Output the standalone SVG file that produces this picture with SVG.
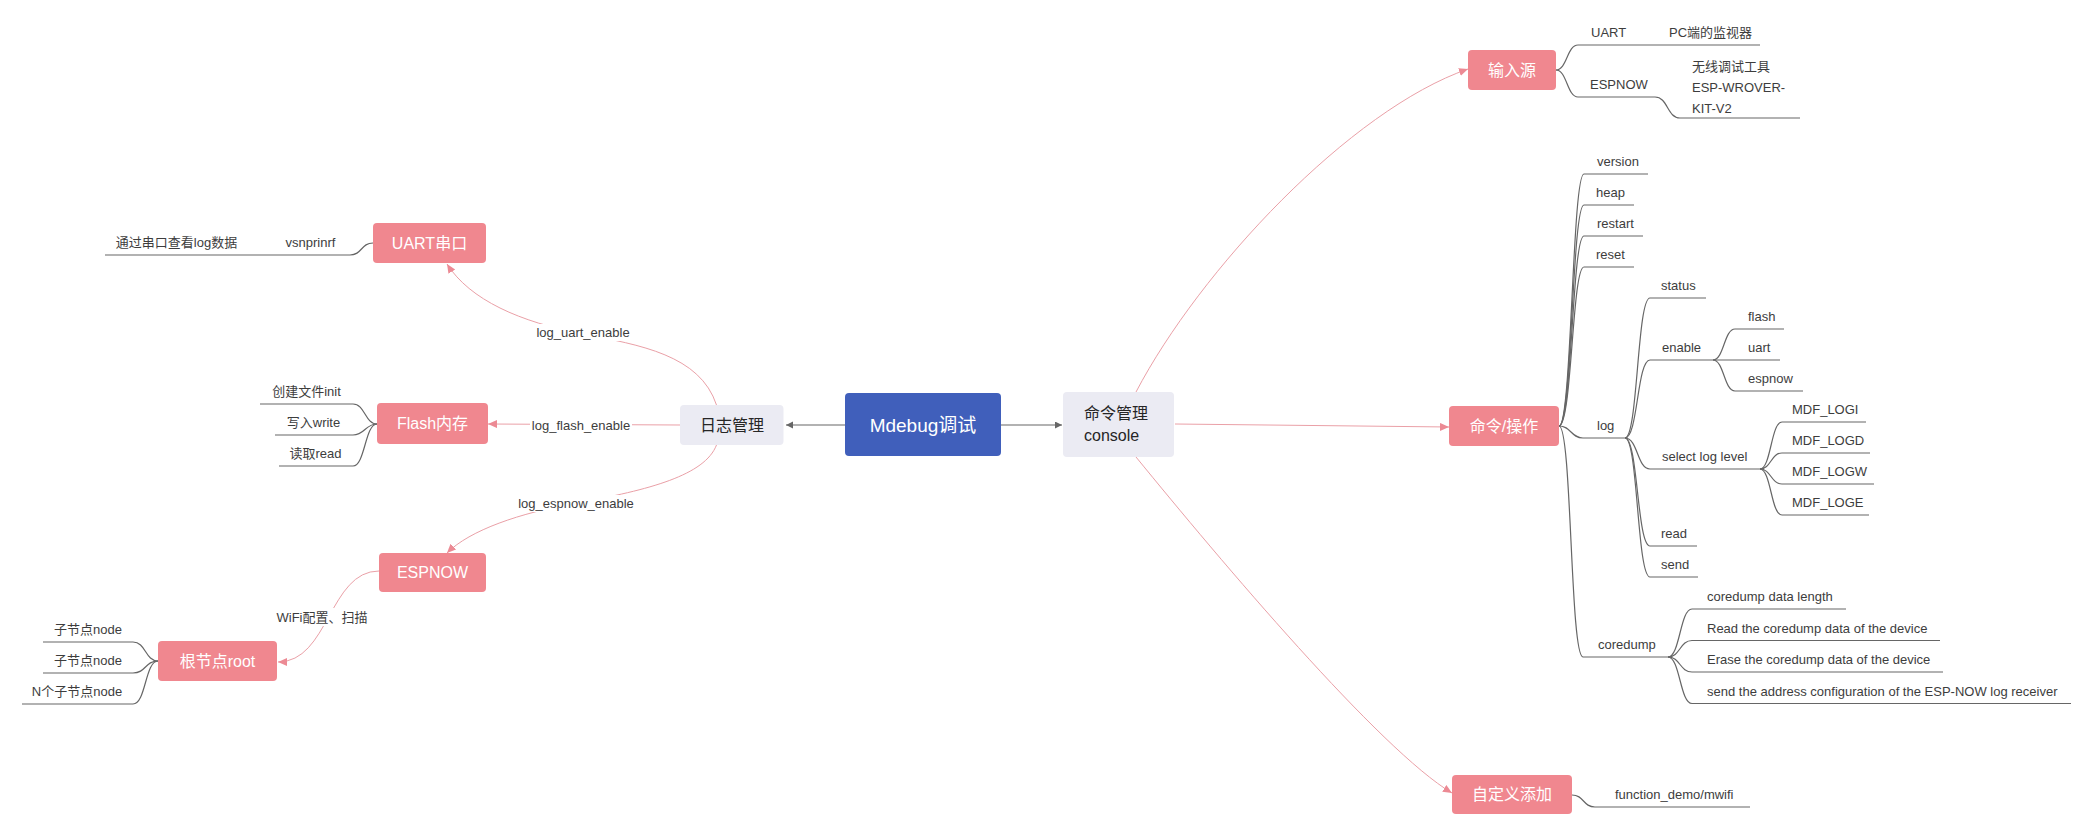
<svg xmlns="http://www.w3.org/2000/svg" width="2091" height="835" viewBox="0 0 2091 835">
<style>
text{font-family:"Liberation Sans","Noto Sans CJK SC",sans-serif;fill:#3d3d3d;font-size:13px}
.pk rect{fill:#f0878f}
.pk text{fill:#fff;font-size:16px;text-anchor:middle}
.gr rect{fill:#ebebf3}
.gr text{fill:#262626;font-size:16px}
.ln{fill:none;stroke:#666;stroke-width:1.2}
.pl{fill:none;stroke:#eaa0a7;stroke-width:1}
.gl{fill:none;stroke:#666;stroke-width:1.2}
.lbl{fill:#fff}
.m{text-anchor:middle}
</style>
<defs>
<marker id="ap" markerUnits="userSpaceOnUse" markerWidth="10" markerHeight="10" refX="9" refY="4" orient="auto"><path d="M0,0 L9,4 L0,8 Z" fill="#ec8a94"/></marker>
<marker id="ag" markerUnits="userSpaceOnUse" markerWidth="8" markerHeight="8" refX="7" refY="3.5" orient="auto"><path d="M0,0 L7,3.5 L0,7 Z" fill="#666"/></marker>
</defs>
<rect width="2091" height="835" fill="#fff"/>

<g id="connectors">
<path class="gl" d="M845,425 L786,425" marker-end="url(#ag)"/>
<path class="gl" d="M1001,425 L1062,425" marker-end="url(#ag)"/>
<path class="pl" d="M716.5,405 C700,355 640,345 583,334 C520,322 470,300 447,264" marker-end="url(#ap)"/>
<path class="pl" d="M680,425 L488,424" marker-end="url(#ap)"/>
<path class="pl" d="M716.5,445 C705,475 650,490 576,503 C520,513 470,530 447,553" marker-end="url(#ap)"/>
<path class="pl" d="M379,571 C329,571 329,662 278,662" marker-end="url(#ap)"/>
<path class="pl" d="M1136,392 C1200,270 1350,110 1468,69" marker-end="url(#ap)"/>
<path class="pl" d="M1175,424 L1449,427" marker-end="url(#ap)"/>
<path class="pl" d="M1136,457 C1220,560 1380,750 1452,793" marker-end="url(#ap)"/>
<rect class="lbl" x="534" y="324" width="98" height="17"/>
<rect class="lbl" x="530" y="417" width="102" height="17"/>
<rect class="lbl" x="517" y="495" width="118" height="17"/>
<rect class="lbl" x="276" y="608" width="93" height="18"/>
<text class="m" x="583" y="337">log_uart_enable</text>
<text class="m" x="581" y="430">log_flash_enable</text>
<text class="m" x="576" y="508">log_espnow_enable</text>
<text class="m" x="322" y="622">WiFi配置、扫描</text>

<!-- left branches -->
<path class="ln" d="M373,243 C361,243 362,255 350,255 L105,255"/>
<path class="ln" d="M377,424 C365,424 365,404 353,404 L260,404"/>
<path class="ln" d="M377,424 C365,424 365,435 353,435 L275,435"/>
<path class="ln" d="M377,424 C365,424 365,466 353,466 L279,466"/>
<path class="ln" d="M158,661 C145,661 146,642 133,642 L43,642"/>
<path class="ln" d="M158,661 C145,661 146,673 133,673 L43,673"/>
<path class="ln" d="M158,661 C145,661 146,704 133,704 L22,704"/>

<!-- input source -->
<path class="ln" d="M1556,70 C1567,70 1567,45 1578,45 L1760,45"/>
<path class="ln" d="M1556,70 C1567,70 1567,97 1578,97 L1655,97 C1668,97 1667,118 1680,118 L1800,118"/>

<!-- command ops -->
<path class="ln" d="M1559,426 C1572,426 1572,174 1584,174 L1648,174"/>
<path class="ln" d="M1559,426 C1572,426 1572,205 1584,205 L1634,205"/>
<path class="ln" d="M1559,426 C1572,426 1572,236 1584,236 L1643,236"/>
<path class="ln" d="M1559,426 C1572,426 1572,267 1584,267 L1634,267"/>
<path class="ln" d="M1559,426 C1571,426 1571,438 1583,438 L1625,438"/>
<path class="ln" d="M1559,426 C1572,426 1570,657 1583,657 L1668,657"/>

<path class="ln" d="M1625,438 C1638,438 1637,298 1650,298 L1706,298"/>
<path class="ln" d="M1625,438 C1638,438 1637,360 1650,360 L1713,360"/>
<path class="ln" d="M1625,438 C1638,438 1637,469 1650,469 L1760,469"/>
<path class="ln" d="M1625,438 C1638,438 1637,546 1650,546 L1697,546"/>
<path class="ln" d="M1625,438 C1638,438 1637,577 1650,577 L1698,577"/>

<path class="ln" d="M1713,360 C1724,360 1724,329 1735,329 L1784,329"/>
<path class="ln" d="M1713,360 L1780,360"/>
<path class="ln" d="M1713,360 C1724,360 1724,391 1735,391 L1803,391"/>

<path class="ln" d="M1760,469 C1771,469 1771,422 1782,422 L1866,422"/>
<path class="ln" d="M1760,469 C1771,469 1771,453 1782,453 L1870,453"/>
<path class="ln" d="M1760,469 C1771,469 1771,484 1782,484 L1874,484"/>
<path class="ln" d="M1760,469 C1771,469 1771,515 1782,515 L1869,515"/>

<path class="ln" d="M1668,657 C1680,657 1680,609 1692,609 L1846,609"/>
<path class="ln" d="M1668,657 C1680,657 1680,640.5 1692,640.5 L1940,640.5"/>
<path class="ln" d="M1668,657 C1680,657 1680,672 1692,672 L1943,672"/>
<path class="ln" d="M1668,657 C1680,657 1680,703.5 1692,703.5 L2071,703.5"/>

<path class="ln" d="M1572,795 C1584,795 1583,807 1595,807 L1750,807"/>
</g>

<g id="n-mdebug"><rect x="845" y="393" width="156" height="63" rx="4" fill="#405fbb"/><text x="923" y="431.5" text-anchor="middle" style="fill:#fff;font-size:19px">Mdebug调试</text></g>
<g id="n-log" class="gr"><rect x="680" y="405" width="103.5" height="40" rx="4"/><text x="732" y="431" text-anchor="middle">日志管理</text></g>
<g id="n-console" class="gr"><rect x="1063" y="392" width="111" height="65" rx="4"/><text x="1084" y="419">命令管理</text><text x="1084" y="441">console</text></g>

<g id="n-uart" class="pk"><rect x="373" y="223" width="113" height="40" rx="4"/><text x="429.5" y="248.5">UART串口</text></g>
<g id="n-flash" class="pk"><rect x="377" y="403" width="111" height="41" rx="4"/><text x="432.5" y="429">Flash内存</text></g>
<g id="n-espnow" class="pk"><rect x="379" y="553" width="107" height="39" rx="4"/><text x="432.5" y="578">ESPNOW</text></g>
<g id="n-root" class="pk"><rect x="158" y="641" width="119" height="40" rx="4"/><text x="217.5" y="666.5">根节点root</text></g>
<g id="n-input" class="pk"><rect x="1468" y="50" width="88" height="40" rx="4"/><text x="1512" y="75.5">输入源</text></g>
<g id="n-cmd" class="pk"><rect x="1449" y="406" width="110" height="40" rx="4"/><text x="1504" y="431.5">命令/操作</text></g>
<g id="n-custom" class="pk"><rect x="1452" y="775" width="120" height="39" rx="4"/><text x="1512" y="799.5">自定义添加</text></g>

<g id="n-vsn"><text class="m" x="310.5" y="247">vsnprinrf</text></g>
<g id="n-uartlog"><text class="m" x="176.5" y="247">通过串口查看log数据</text></g>
<g id="n-init"><text class="m" x="306.5" y="396">创建文件init</text></g>
<g id="n-write"><text class="m" x="313.5" y="427">写入write</text></g>
<g id="n-read"><text class="m" x="315.5" y="458">读取read</text></g>
<g id="n-node1"><text class="m" x="88" y="634">子节点node</text></g>
<g id="n-node2"><text class="m" x="88" y="665">子节点node</text></g>
<g id="n-noden"><text class="m" x="77" y="696">N个子节点node</text></g>

<g id="n-in-uart"><text x="1591" y="37">UART</text></g>
<g id="n-pc"><text x="1669" y="37">PC端的监视器</text></g>
<g id="n-in-espnow"><text x="1590" y="89">ESPNOW</text></g>
<g id="n-tool"><text x="1692" y="71">无线调试工具</text><text x="1692" y="91.5">ESP-WROVER-</text><text x="1692" y="112.5">KIT-V2</text></g>

<g id="n-version"><text x="1597" y="166">version</text></g>
<g id="n-heap"><text x="1596" y="197">heap</text></g>
<g id="n-restart"><text x="1597" y="228">restart</text></g>
<g id="n-reset"><text x="1596" y="259">reset</text></g>
<g id="n-logc"><text x="1597" y="430">log</text></g>
<g id="n-status"><text x="1661" y="290">status</text></g>
<g id="n-enable"><text x="1662" y="352">enable</text></g>
<g id="n-sel"><text x="1662" y="461">select log level</text></g>
<g id="n-lread"><text x="1661" y="538">read</text></g>
<g id="n-send"><text x="1661" y="569">send</text></g>
<g id="n-eflash"><text x="1748" y="321">flash</text></g>
<g id="n-euart"><text x="1748" y="352">uart</text></g>
<g id="n-eespnow"><text x="1748" y="383">espnow</text></g>
<g id="n-logi"><text x="1792" y="414">MDF_LOGI</text></g>
<g id="n-logd"><text x="1792" y="445">MDF_LOGD</text></g>
<g id="n-logw"><text x="1792" y="476">MDF_LOGW</text></g>
<g id="n-loge"><text x="1792" y="507">MDF_LOGE</text></g>
<g id="n-coredump"><text x="1598" y="649">coredump</text></g>
<g id="n-cd1"><text x="1707" y="601">coredump data length</text></g>
<g id="n-cd2"><text x="1707" y="632.5">Read the coredump data of the device</text></g>
<g id="n-cd3"><text x="1707" y="664">Erase the coredump data of the device</text></g>
<g id="n-cd4"><text x="1707" y="695.5">send the address configuration of the ESP-NOW log receiver</text></g>
<g id="n-func"><text x="1615" y="799">function_demo/mwifi</text></g>
</svg>
